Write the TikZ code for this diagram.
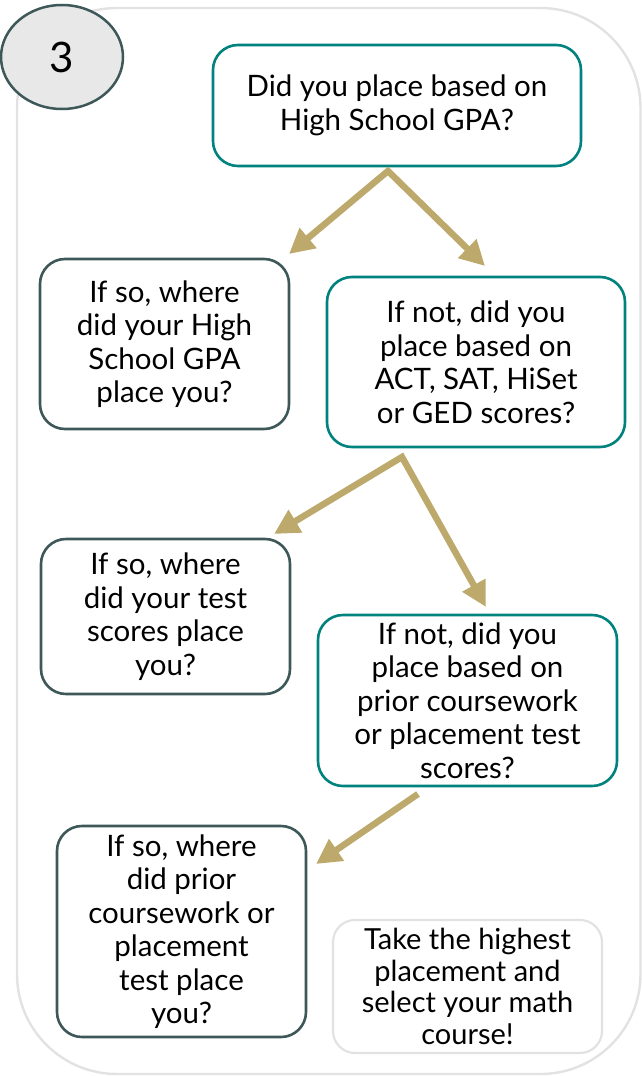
\documentclass[tikz,border=0pt]{standalone}
\usepackage{fontspec}
\setmainfont{Lato}
\usetikzlibrary{arrows.meta,shapes.geometric}
\definecolor{teal}{HTML}{00827E}
\definecolor{slate}{HTML}{3E5758}
\definecolor{tanc}{HTML}{BDA96C}
\definecolor{framegray}{HTML}{E2E2E2}
\definecolor{circfill}{HTML}{E8E8E8}
\tikzset{
  box/.style={rectangle, rounded corners=25pt, line width=2.6pt, align=center, inner sep=0pt,
    font=\fontsize{29.5}{33.5}\selectfont, text=black},
  tealbox/.style={box, draw=teal},
  slatebox/.style={box, draw=slate},
  graybox/.style={box, draw=framegray, line width=2.2pt, rounded corners=22pt, font=\fontsize{29}{31.5}\selectfont},
  tanarrow/.style={draw=tanc, line width=6.5pt, line join=miter, miter limit=10,
    arrows={-Triangle[length=25pt,width=25pt]}},
  tanarrows/.style={tanarrow, arrows={Triangle[length=25pt,width=25pt]-Triangle[length=25pt,width=25pt]}}
}
\begin{document}
\begin{tikzpicture}[x=1pt,y=-1pt]
\useasboundingbox (0,0) rectangle (642,1076);
% outer frame
\draw[framegray, line width=2.4pt, rounded corners=100pt] (17,8) rectangle (640.5,1074);
% badge
\node[ellipse, draw=slate, fill=circfill, line width=2.5pt, minimum width=122pt, minimum height=104pt, inner sep=0pt,
  font=\fontsize{42}{42}\selectfont] (badge) at (62,57) {3};
% boxes
\node[tealbox, minimum width=368pt, minimum height=121pt] (A) at (397,105.5)
  {\fontsize{29.5}{36}\selectfont Did you place based on\\High School GPA?};
\node[slatebox, minimum width=249pt, minimum height=170pt] (B) at (164.5,344)
  {If so, where\\did your High\\School GPA\\place you?};
\node[tealbox, minimum width=298pt, minimum height=170pt] (C) at (476,362)
  {If not, did you\\place based on\\ACT, SAT, HiSet\\or GED scores?};
\node[slatebox, minimum width=249pt, minimum height=155pt] (D) at (165.5,616.5)
  {If so, where\\did your test\\scores place\\you?};
\node[tealbox, minimum width=299pt, minimum height=171pt] (E) at (467.5,700.5)
  {If not, did you\\place based on\\prior coursework\\or placement test\\scores?};
\node[slatebox, minimum width=249pt, minimum height=211pt] (F) at (181.5,931.5)
  {If so, where\\did prior\\coursework or\\placement\\test place\\you?};
\node[graybox, minimum width=269pt, minimum height=133pt] (G) at (467.5,986.5)
  {Take the highest\\placement and\\select your math\\course!};
% arrow coordinates
\coordinate (s1) at (388,171);
\coordinate (t1) at (289,254);
\coordinate (t2) at (485,266);
\coordinate (s2) at (402,457);
\coordinate (t3) at (274,534);
\coordinate (t4) at (486,607);
\coordinate (s3) at (418,794);
\coordinate (t5) at (316,864);
\draw[tanarrows] (t1) -- (s1) -- (t2);
\draw[tanarrows] (t3) -- (s2) -- (t4);
\draw[tanarrow] (s3) -- (t5);
\end{tikzpicture}
\end{document}
